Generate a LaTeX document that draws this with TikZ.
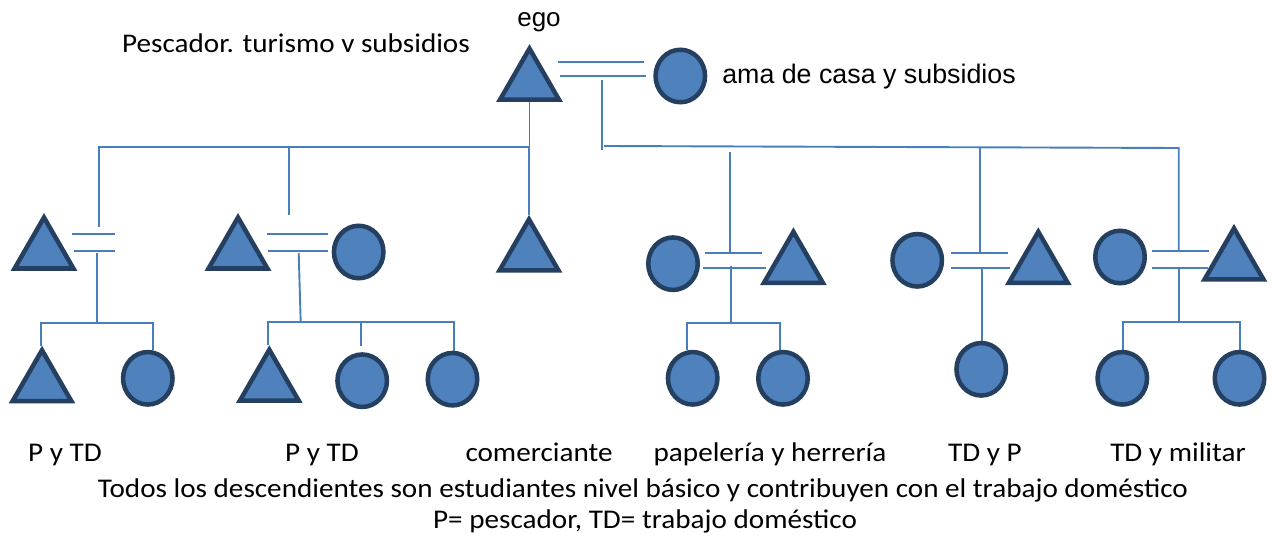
\documentclass[tikz,border=0pt]{standalone}
\usepackage{fontspec}
\setmainfont{Carlito}[FakeStretch=1.08]
\newfontfamily\arialfont{Liberation Sans}
\usetikzlibrary{shapes.geometric,backgrounds}
\definecolor{fillblue}{HTML}{4F81BD}
\definecolor{edgeblue}{HTML}{243F60}
\definecolor{linkblue}{HTML}{4A7EBB}
\begin{document}
\begin{tikzpicture}[x=1pt,y=-1pt,
  male/.style={regular polygon, regular polygon sides=3, minimum size=68pt, inner sep=0pt,
    draw=edgeblue, fill=fillblue, line width=4.5pt},
  female/.style={ellipse, minimum width=49.5pt, minimum height=52.5pt, inner sep=0pt,
    draw=edgeblue, fill=fillblue, line width=4.5pt},
  link/.style={draw=linkblue, line width=1.9pt},
  lbl/.style={font=\fontsize{27}{31}\selectfont, anchor=base, inner sep=0pt},
  albl/.style={font=\arialfont\fontsize{26.8}{31}\selectfont, anchor=base, inner sep=0pt}]
\useasboundingbox (0,0) rectangle (1272,540);

% people
\node[male] (ego) at (529.5,82.6) {};
\node[female] (egow) at (680.3,76) {};
\node[male] (f1h) at (44,251.5) {};
\node[male] (f1s) at (42,384.2) {};
\node[female] (f1d) at (147.8,378.3) {};
\node[male] (f2h) at (238,251.5) {};
\node[female] (f2w) at (358.7,252) {};
\node[male] (f2s) at (269.3,383.7) {};
\node[female] (f2d1) at (362.2,380.7) {};
\node[female] (f2d2) at (452.5,379.2) {};
\node[male] (com) at (529,253.4) {};
\node[female] (f4w) at (673,263.7) {};
\node[male] (f4h) at (793.4,265.8) {};
\node[female] (f4d1) at (692.7,378.3) {};
\node[female] (f4d2) at (783,378.3) {};
\node[female] (f5w) at (917.2,260.3) {};
\node[male] (f5h) at (1038.3,265.8) {};
\node[female] (f5d) at (981.2,369.3) {};
\node[female] (f6w) at (1120,257) {};
\node[male] (f6h) at (1234,262.4) {};
\node[female] (f6d1) at (1122.3,378.3) {};
\node[female] (f6d2) at (1239.5,378.3) {};

% texts
\node[albl, font=\arialfont\fontsize{26}{30}\selectfont] (egot) at (539,27) {ego};
\node[lbl] (pesc) at (296,52.5) {Pescador. turismo v subsidios};
\node[albl] (ama) at (869,83.3) {ama de casa y subsidios};
\node[lbl] (l1) at (65,461) {P y TD};
\node[lbl] (l2) at (322,461) {P y TD};
\node[lbl] (l3) at (539,461) {comerciante};
\node[lbl] (l4) at (770,461) {papelería y herrería};
\node[lbl] (l5) at (985,461) {TD y P};
\node[lbl] (l6) at (1178,461) {TD y militar};
\node[lbl] (n1) at (643,497) {Todos los descendientes son estudiantes nivel básico y contribuyen con el trabajo doméstico};
\node[lbl] (n2) at (645,528) {P= pescador, TD= trabajo doméstico};

\begin{pgfonlayer}{background}
\fill[white] (0,0) rectangle (1272,540);
% ego marriage
\coordinate (m0a) at (558,61.7); \coordinate (m0b) at (644,61.7);
\coordinate (m0c) at (560,76); \coordinate (m0d) at (646,76);
\draw[link] (m0a) -- (m0b);
\draw[link] (m0c) -- (m0d);
% ego's line to the left children
\coordinate (lbar) at (99,147);
\coordinate (f1up) at (99,227);
\coordinate (f2up) at (289,215);
\draw[link] (ego.side 2) |- (lbar) -- (f1up);
\draw[link] (f2up) -- (f2up |- lbar);
\draw[link] (com.corner 1) -- (com.corner 1 |- lbar);
% couple's line to the right children
\coordinate (rtop) at (602.3,80); \coordinate (rbot) at (602.3,150);
\draw[link] (rtop) -- (rbot);
\coordinate (rbarA) at (604,146); \coordinate (rbarB) at (1178.7,148);
\coordinate (f6up) at (1178.7,250.7);
\draw[link] (rbarA) -- (rbarB) -- (f6up);
\coordinate (f4top) at (730,152); \coordinate (f4up) at (730,252.7);
\draw[link] (f4top) -- (f4up);
\coordinate (f5top) at (980,147); \coordinate (f5up) at (980,251.7);
\draw[link] (f5top) -- (f5up);

% family 1
\coordinate (f1ma) at (72,234.3); \coordinate (f1mb) at (115.3,234.3);
\coordinate (f1mc) at (74,251); \coordinate (f1md) at (115.3,251);
\draw[link] (f1ma) -- (f1mb);
\draw[link] (f1mc) -- (f1md);
\coordinate (f1dn) at (96.7,253); \coordinate (f1bM) at (96.7,322.7);
\draw[link] (f1dn) -- (f1bM);
\coordinate (f1bL) at (40.7,322.7); \coordinate (f1bR) at (152.7,322.7);
\draw[link] (f1bL |- f1s.corner 1) -- (f1bL) -- (f1bR) -- (f1bR |- f1d.north);

% family 2
\coordinate (f2ma) at (266.7,234.3); \coordinate (f2mb) at (327.7,234.3);
\coordinate (f2mc) at (268,251); \coordinate (f2md) at (327.7,251);
\draw[link] (f2ma) -- (f2mb);
\draw[link] (f2mc) -- (f2md);
\coordinate (f2dn) at (298.7,253); \coordinate (f2bM) at (300.7,322.3);
\draw[link] (f2dn) -- (f2bM);
\coordinate (f2bL) at (268,322.3); \coordinate (f2bR) at (454,322.3);
\draw[link] (f2bL |- f2s.corner 1) -- (f2bL) -- (f2bR) -- (f2bR |- f2d2.north);
\coordinate (f2mid) at (361.3,322.3); \coordinate (f2midb) at (361.3,345.7);
\draw[link] (f2mid) -- (f2midb);

% family 4
\coordinate (f4ma) at (705,252.7); \coordinate (f4mb) at (762.3,252.7);
\coordinate (f4mc) at (703.3,267.7); \coordinate (f4md) at (766,267.7);
\draw[link] (f4ma) -- (f4mb);
\draw[link] (f4mc) -- (f4md);
\coordinate (f4dn) at (730.7,266); \coordinate (f4bM) at (730.7,323.3);
\draw[link] (f4dn) -- (f4bM);
\coordinate (f4bL) at (686.7,323.3); \coordinate (f4bR) at (780,323.3);
\draw[link] (f4bL |- f4d1.north) -- (f4bL) -- (f4bR) -- (f4bR |- f4d2.north);

% family 5
\coordinate (f5ma) at (950.7,252.7); \coordinate (f5mb) at (1008.3,252.7);
\coordinate (f5mc) at (951,267.7); \coordinate (f5md) at (1010,267.7);
\draw[link] (f5ma) -- (f5mb);
\draw[link] (f5mc) -- (f5md);
\coordinate (f5dn) at (981.7,268);
\draw[link] (f5dn) -- (f5dn |- f5d.north);

% family 6
\coordinate (f6ma) at (1152,250.7); \coordinate (f6mb) at (1208.7,250.7);
\coordinate (f6mc) at (1152,267.7); \coordinate (f6md) at (1208,267.7);
\draw[link] (f6ma) -- (f6mb);
\draw[link] (f6mc) -- (f6md);
\coordinate (f6dn) at (1178.7,268); \coordinate (f6bM) at (1178.7,322.3);
\draw[link] (f6dn) -- (f6bM);
\coordinate (f6bL) at (1122.7,322.3); \coordinate (f6bR) at (1240.3,322.3);
\draw[link] (f6bL |- f6d1.north) -- (f6bL) -- (f6bR) -- (f6bR |- f6d2.north);
\end{pgfonlayer}
\end{tikzpicture}
\end{document}
